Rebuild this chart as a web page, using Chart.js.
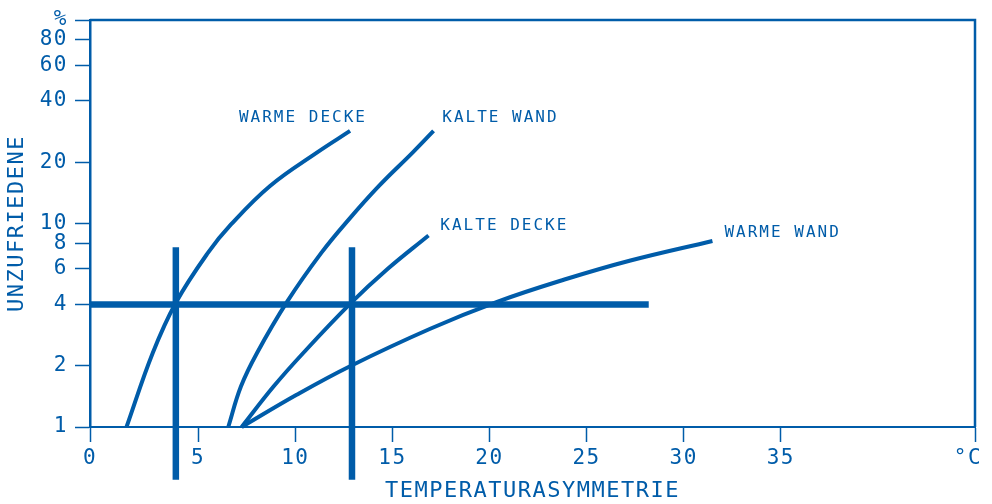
<!DOCTYPE html>
<html>
<head>
<meta charset="utf-8">
<script src="https://cdn.jsdelivr.net/npm/chart.js@4/dist/chart.umd.min.js"></script>
<style>
  html, body { margin: 0; padding: 0; background: #fff; }
  #wrap { width: 992px; height: 504px; }
</style>
</head>
<body>
<div id="wrap"><canvas id="grafico"></canvas></div>
<script>
// achsen
const xMin = -0.57;
const xMax = 45;
const xTickValues = [xMin, 5, 10, 15, 20, 25, 30, 35, 45];
const xTickLabels = ['0', '5', '10', '15', '20', '25', '30', '35', '°C '];
const yTickValues = [1, 2, 4, 6, 8, 10, 20, 40, 60, 80, 100];
const yTickLabels = ['1', '2', '4', '6', '8', '10', '20', '40', '60', '80', '%'];

// kurven (x = temperaturasymmetrie, y = unzufriedene %)
const warmeDeckeX = [1.31, 2.66, 3.85, 5.50, 6.69, 8.70, 11.11, 12.82];
const warmeDeckeY = [1.0, 2.31, 4.08, 7.17, 9.89, 15.3, 22.3, 28.5];
const kalteWandX = [6.55, 7.20, 8.03, 9.59, 11.34, 12.75, 14.31, 16.04, 17.12];
const kalteWandY = [1.0, 1.58, 2.31, 4.14, 7.17, 10.45, 15.3, 22.3, 28.5];
const kalteDeckeX = [7.24, 8.88, 10.41, 12.87, 14.72, 16.86];
const kalteDeckeY = [1.0, 1.58, 2.31, 4.07, 5.94, 8.73];
const warmeWandX = [7.24, 10.07, 12.82, 16.95, 20.39, 23.82, 27.26, 31.48];
const warmeWandY = [1.0, 1.44, 1.99, 3.04, 4.12, 5.29, 6.58, 8.21];

// dicke hilfslinien
const grenzeY = 4;
const grenzeXEnde = 28.2;
const senkrechtX = [3.85, 12.92];
const senkrechtY = [0.55, 7.64];

// beschriftungen der kurven
const kurvenNamen = ['WARME DECKE', 'KALTE WAND', 'KALTE DECKE', 'WARME WAND'];
const kurvenNameX = [7.1, 17.57, 17.47, 32.1];
const kurvenNameY = [33.2, 33.2, 9.78, 9.0];

const blau = '#005ca9';
const schrift = "'DejaVu Sans Mono', monospace";

function punkte(xs, ys) {
    return xs.map((x, i) => ({ x: x, y: ys[i] }));
}

function kurve(xs, ys) {
    return {
        data: punkte(xs, ys),
        showLine: true,
        borderColor: blau,
        borderWidth: 4,
        pointRadius: 0,
        tension: 0.4,
        clip: false
    };
}

function gerade(data) {
    return {
        data: data,
        showLine: true,
        borderColor: blau,
        borderWidth: 6.5,
        pointRadius: 0,
        tension: 0,
        clip: false
    };
}

const datasets = [
    kurve(warmeDeckeX, warmeDeckeY),
    kurve(kalteWandX, kalteWandY),
    kurve(kalteDeckeX, kalteDeckeY),
    kurve(warmeWandX, warmeWandY),
    gerade([{ x: xMin, y: grenzeY }, { x: grenzeXEnde, y: grenzeY }])
];
senkrechtX.forEach(x => {
    datasets.push(gerade([{ x: x, y: senkrechtY[0] }, { x: x, y: senkrechtY[1] }]));
});

const sperrung = {
    id: 'sperrung',
    beforeDraw(chart) {
        chart.ctx.letterSpacing = '1.5px';
    },
    afterDraw(chart) {
        const ctx = chart.ctx;
        const a = chart.chartArea;
        ctx.save();
        // rahmen oben und rechts
        ctx.strokeStyle = blau;
        ctx.lineWidth = 2.5;
        ctx.beginPath();
        ctx.moveTo(a.left, a.top);
        ctx.lineTo(a.right, a.top);
        ctx.lineTo(a.right, a.bottom);
        ctx.stroke();

        // namen der kurven
        const xs = chart.scales.x;
        const ys = chart.scales.y;
        ctx.fillStyle = blau;
        ctx.font = '16px ' + schrift;
        ctx.letterSpacing = '2px';
        ctx.textAlign = 'left';
        ctx.textBaseline = 'middle';
        kurvenNamen.forEach((name, i) => {
            ctx.fillText(name, xs.getPixelForValue(kurvenNameX[i]), ys.getPixelForValue(kurvenNameY[i]));
        });
        ctx.restore();
    }
};

new Chart(document.getElementById('grafico'), {
    type: 'scatter',
    data: { datasets: datasets },
    plugins: [sperrung],
    options: {
        responsive: true,
        maintainAspectRatio: false,
        animation: false,
        layout: { padding: { top: 20, right: 17, left: 0, bottom: 0 } },
        plugins: {
            legend: { display: false },
            tooltip: { enabled: false }
        },
        scales: {
            x: {
                type: 'linear',
                min: xMin,
                max: xMax,
                afterBuildTicks: s => { s.ticks = xTickValues.map(v => ({ value: v })); },
                afterFit: s => {
                    s.height = 77;
                    s.paddingLeft = 0;
                    s.paddingRight = 0;
                },
                ticks: {
                    color: blau,
                    font: { family: schrift, size: 21 },
                    padding: 4,
                    maxRotation: 0,
                    autoSkip: false,
                    callback: (v, i) => xTickLabels[i]
                },
                grid: {
                    drawOnChartArea: false,
                    drawTicks: true,
                    tickLength: 15,
                    tickColor: blau,
                    tickWidth: 1.5
                },
                border: { color: blau, width: 2 },
                title: {
                    display: true,
                    text: 'TEMPERATURASYMMETRIE',
                    color: blau,
                    font: { family: schrift, size: 22 },
                    padding: { top: 0, bottom: 0 }
                }
            },
            y: {
                type: 'logarithmic',
                min: 1,
                max: 100,
                afterBuildTicks: s => { s.ticks = yTickValues.map(v => ({ value: v })); },
                afterFit: s => { s.width = 90; },
                ticks: {
                    color: blau,
                    font: { family: schrift, size: 21 },
                    padding: 7,
                    autoSkip: false,
                    callback: (v, i) => yTickLabels[i]
                },
                grid: {
                    drawOnChartArea: false,
                    drawTicks: true,
                    tickLength: 15,
                    tickColor: blau,
                    tickWidth: 1.5
                },
                border: { color: blau, width: 2.5 },
                title: {
                    display: true,
                    text: 'UNZUFRIEDENE',
                    color: blau,
                    font: { family: schrift, size: 22 },
                    padding: { top: 4, bottom: 0 }
                }
            }
        }
    }
});
</script>
</body>
</html>
